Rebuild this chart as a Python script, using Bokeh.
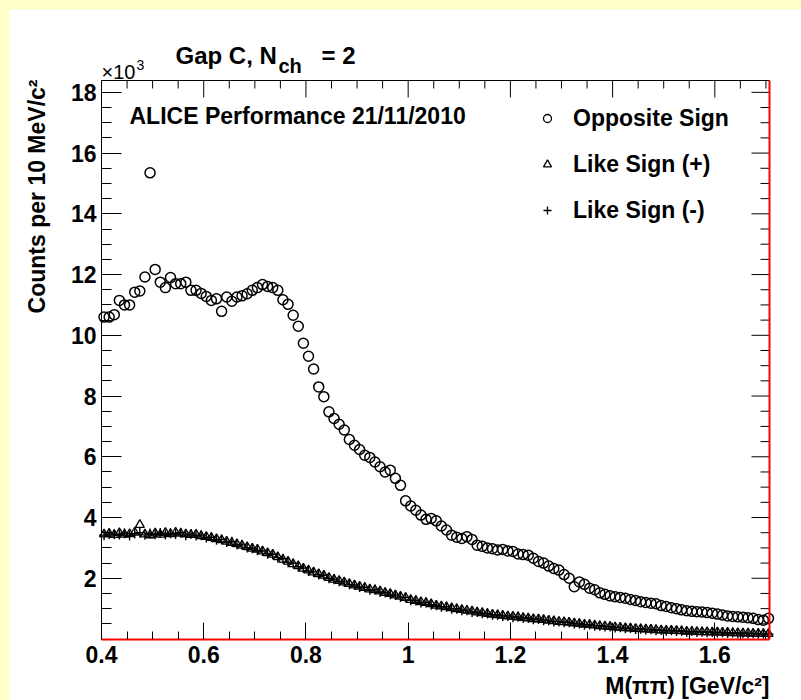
from bokeh.plotting import figure
from bokeh.models import Range1d, FixedTicker, LinearAxis, Label, Legend, LegendItem
from bokeh.layouts import column
from bokeh.embed import file_html
from bokeh.resources import INLINE

# ---------------- data (counts per 10 MeV/c^2, in units of 10^3) ----------------
X_LO, X_HI = 0.4, 1.707
Y_LO, Y_HI = 0.0, 18.39
bin_width = 0.01

opposite_sign = [
    10.60, 10.60, 10.68, 11.15, 11.00, 11.00, 11.42, 11.46, 11.92, 15.35,
    12.17, 11.75, 11.57, 11.90, 11.70, 11.70, 11.75, 11.48, 11.48, 11.38,
    11.28, 11.15, 11.20, 10.79, 11.26, 11.12, 11.26, 11.30, 11.37, 11.48,
    11.57, 11.67, 11.61, 11.57, 11.48, 11.17, 11.02, 10.66, 10.30, 9.74,
    9.31, 8.89, 8.30, 7.98, 7.48, 7.26, 7.07, 6.88, 6.57, 6.38,
    6.24, 6.05, 5.98, 5.83, 5.67, 5.50, 5.56, 5.29, 5.06, 4.55,
    4.38, 4.24, 4.08, 3.94, 3.97, 3.89, 3.72, 3.59, 3.42, 3.35,
    3.31, 3.37, 3.28, 3.09, 3.05, 3.00, 2.97, 2.93, 2.95, 2.90,
    2.88, 2.80, 2.78, 2.76, 2.66, 2.55, 2.50, 2.40, 2.32, 2.27,
    2.12, 2.00, 1.72, 1.88, 1.80, 1.67, 1.62, 1.52, 1.47, 1.42,
    1.39, 1.37, 1.34, 1.30, 1.27, 1.23, 1.20, 1.18, 1.16, 1.10,
    1.07, 1.03, 1.00, 0.96, 0.93, 0.91, 0.90, 0.89, 0.87, 0.85,
    0.82, 0.79, 0.76, 0.74, 0.73, 0.72, 0.70, 0.68, 0.64, 0.62,
    0.68,
]

like_sign_plus = [
    3.45, 3.47, 3.43, 3.49, 3.44, 3.46, 3.51, 3.76, 3.45, 3.42,
    3.48, 3.44, 3.50, 3.46, 3.51, 3.47, 3.45, 3.43, 3.44, 3.39,
    3.37, 3.33, 3.29, 3.26, 3.21, 3.17, 3.13, 3.08, 3.03, 2.98,
    2.95, 2.89, 2.83, 2.78, 2.70, 2.62, 2.55, 2.47, 2.40, 2.32,
    2.26, 2.20, 2.14, 2.09, 2.02, 1.96, 1.92, 1.87, 1.82, 1.77,
    1.73, 1.69, 1.64, 1.61, 1.57, 1.52, 1.49, 1.44, 1.40, 1.36,
    1.29, 1.26, 1.22, 1.19, 1.15, 1.10, 1.08, 1.05, 1.02, 0.99,
    0.96, 0.94, 0.91, 0.88, 0.86, 0.83, 0.81, 0.79, 0.77, 0.75,
    0.74, 0.72, 0.70, 0.68, 0.66, 0.65, 0.63, 0.61, 0.59, 0.57,
    0.56, 0.54, 0.52, 0.50, 0.48, 0.47, 0.45, 0.43, 0.42, 0.40,
    0.39, 0.38, 0.36, 0.35, 0.34, 0.33, 0.32, 0.31, 0.30, 0.29,
    0.28, 0.28, 0.27, 0.26, 0.25, 0.25, 0.24, 0.23, 0.23, 0.22,
    0.22, 0.21, 0.21, 0.20, 0.20, 0.19, 0.19, 0.18, 0.18, 0.17,
    0.17,
]

like_sign_minus = [
    3.42, 3.46, 3.45, 3.44, 3.48, 3.41, 3.47, 3.50, 3.43, 3.47,
    3.45, 3.49, 3.44, 3.48, 3.46, 3.50, 3.42, 3.46, 3.41, 3.42,
    3.34, 3.35, 3.27, 3.28, 3.19, 3.20, 3.11, 3.10, 3.01, 2.99,
    2.92, 2.90, 2.81, 2.79, 2.68, 2.64, 2.53, 2.49, 2.38, 2.34,
    2.24, 2.21, 2.12, 2.10, 2.00, 1.97, 1.90, 1.88, 1.80, 1.78,
    1.71, 1.70, 1.62, 1.62, 1.55, 1.53, 1.47, 1.45, 1.38, 1.37,
    1.28, 1.27, 1.20, 1.20, 1.13, 1.11, 1.06, 1.06, 1.00, 1.00,
    0.95, 0.95, 0.89, 0.89, 0.85, 0.84, 0.80, 0.80, 0.76, 0.76,
    0.72, 0.73, 0.69, 0.69, 0.65, 0.66, 0.62, 0.62, 0.58, 0.58,
    0.55, 0.55, 0.51, 0.51, 0.47, 0.48, 0.44, 0.44, 0.41, 0.41,
    0.38, 0.39, 0.35, 0.36, 0.33, 0.34, 0.31, 0.32, 0.29, 0.30,
    0.27, 0.29, 0.26, 0.27, 0.24, 0.26, 0.23, 0.24, 0.22, 0.23,
    0.21, 0.22, 0.20, 0.21, 0.19, 0.20, 0.18, 0.19, 0.17, 0.18,
    0.16,
]

# histogram bin centres (10 MeV bins starting at 0.40 GeV)
mass = [round(X_LO + bin_width * (i + 0.5), 4) for i in range(len(opposite_sign))]

x_major = [0.4, 0.6, 0.8, 1.0, 1.2, 1.4, 1.6]
x_minor = [0.45, 0.5, 0.55, 0.65, 0.7, 0.75, 0.85, 0.9, 0.95, 1.05, 1.1, 1.15,
           1.25, 1.3, 1.35, 1.45, 1.5, 1.55, 1.65, 1.7]
y_major = [2, 4, 6, 8, 10, 12, 14, 16, 18]
y_minor = [0.5, 1, 1.5, 2.5, 3, 3.5, 4.5, 5, 5.5, 6.5, 7, 7.5, 8.5, 9, 9.5,
           10.5, 11, 11.5, 12.5, 13, 13.5, 14.5, 15, 15.5, 16.5, 17, 17.5]

legend_labels = ["Opposite Sign", "Like Sign (+)", "Like Sign (-)"]

FONT = "Liberation Sans"
YELLOW = "#ffffcc"

# ---------------- geometry (page pixels) ----------------
OFF = 9                       # yellow strip on the top and left
FIG_W, FIG_H = 801 - OFF, 700 - OFF
FR_L, FR_R, FR_T, FR_B = 101, 769, 80, 638.5   # drawn frame, page pixels
SX = (FR_R - FR_L) / (X_HI - X_LO)
SY = (FR_B - FR_T) / (Y_HI - Y_LO)
xr = Range1d(X_LO - (FR_L - OFF) / SX, X_HI + (801 - FR_R) / SX)
yr = Range1d(Y_LO - (700 - FR_B) / SY, Y_HI + (FR_T - OFF) / SY)

p = figure(width=FIG_W, height=FIG_H, output_backend="svg", toolbar_location=None,
           x_range=xr, y_range=yr, x_axis_type=None, y_axis_type=None, title=None,
           min_border=0, margin=(OFF, 0, 0, OFF))
p.outline_line_color = None
p.background_fill_color = "white"
p.border_fill_color = "white"


def make_axis(ticks, minor, line_color, line_width, tin, loc, bounds):
    ax = LinearAxis(ticker=FixedTicker(ticks=ticks, minor_ticks=minor),
                    fixed_location=loc, bounds=bounds)
    ax.axis_line_color = line_color
    ax.axis_line_width = line_width
    ax.major_tick_in = tin
    ax.major_tick_out = 0
    ax.minor_tick_in = tin // 2
    ax.minor_tick_out = 0
    ax.major_tick_line_color = "black"
    ax.minor_tick_line_color = "black"
    ax.major_label_text_font = FONT
    ax.major_label_text_font_style = "bold"
    ax.major_label_text_color = "black"
    ax.major_label_text_font_size = "23px"
    return ax


# top and right frame edges (no labels; ticks drawn below)
xt = make_axis([], [], "black", 1, 0, Y_HI, (X_LO, X_HI))
p.add_layout(xt, "above")
yrt = make_axis([], [], "red", 2, 0, X_HI, (Y_LO, Y_HI))
p.add_layout(yrt, "right")

yl = make_axis(y_major, y_minor, "black", 1, 20, X_LO, (Y_LO, Y_HI))
yl.major_label_standoff = 5
p.add_layout(yl, "left")

xb = make_axis(x_major, x_minor, "red", 2, 17, Y_LO, (X_LO, X_HI))
xb.major_label_standoff = 7
xb.major_label_overrides = {1.0: "1"}
p.add_layout(xb, "below")

# mirrored ticks on the top and right edges
p.segment(x0=x_major, y0=[Y_HI] * len(x_major), x1=x_major,
          y1=[Y_HI - 17 / SY] * len(x_major), line_color="black", line_width=1)
p.segment(x0=x_minor, y0=[Y_HI] * len(x_minor), x1=x_minor,
          y1=[Y_HI - 8 / SY] * len(x_minor), line_color="black", line_width=1)
p.segment(x0=[X_HI] * len(y_major), y0=y_major, x1=[X_HI - 18 / SX] * len(y_major),
          y1=y_major, line_color="black", line_width=1)
p.segment(x0=[X_HI] * len(y_minor), y0=y_minor, x1=[X_HI - 9 / SX] * len(y_minor),
          y1=y_minor, line_color="black", line_width=1)

# ---------------- data points ----------------
p.scatter(mass, like_sign_plus, marker="triangle", size=9, fill_color=None,
          line_color="black", line_width=1.3)
p.scatter(mass, like_sign_minus, marker="cross", size=10,
          line_color="black", line_width=1.4)
p.scatter(mass, opposite_sign, marker="circle", size=10, fill_color=None,
          line_color="black", line_width=1.5)

# legend (small markers, as in the original)
nan = float("nan")
r_os = p.scatter([nan], [nan], marker="circle", size=6, fill_color=None,
                 line_color="black", line_width=1.3)
r_lp = p.scatter([nan], [nan], marker="triangle", size=6, fill_color=None,
                 line_color="black", line_width=1.3)
r_lm = p.scatter([nan], [nan], marker="cross", size=8, line_color="black",
                 line_width=1.3)
leg = Legend(items=[LegendItem(label=legend_labels[0], renderers=[r_os]),
                    LegendItem(label=legend_labels[1], renderers=[r_lp]),
                    LegendItem(label=legend_labels[2], renderers=[r_lm])],
             location=(537 - OFF, 700 - 224), orientation="vertical",
             glyph_width=20, glyph_height=28, label_height=28, spacing=18,
             label_standoff=16, padding=0, margin=0,
             label_text_font=FONT, label_text_font_size="23px",
             label_text_font_style="bold", label_text_color="black",
             border_line_color=None, background_fill_alpha=0)
p.add_layout(leg, "center")


# ---------------- texts (page pixel positions of the text's vertical middle) ----------------
def add_label(text, px, py, size, align="left", angle=0, style="bold"):
    p.add_layout(Label(x=px - OFF, y=700 - py, x_units="screen", y_units="screen",
                       text=text, text_font=FONT, text_font_size=f"{size}px",
                       text_font_style=style, text_align=align,
                       text_baseline="middle", angle=angle, text_color="black"))


add_label("Gap C, N", 175, 55, 24)
add_label("ch", 278, 65, 20)
add_label("= 2", 321, 55, 24)
add_label("\u00d710", 101, 71, 20, style="normal")
add_label("3", 136, 64, 14, style="normal")
add_label("ALICE Performance 21/11/2010", 129, 115, 23)
add_label("M(\u03c0\u03c0) [GeV/c\u00b2]", 769, 685, 23, align="right")
add_label("Counts per 10 MeV/c\u00b2", 36.5, 79, 23, align="right", angle=1.5707963)

layout = column(p, styles={"background-color": YELLOW})
open("out.html", "w").write(file_html(layout, INLINE))
